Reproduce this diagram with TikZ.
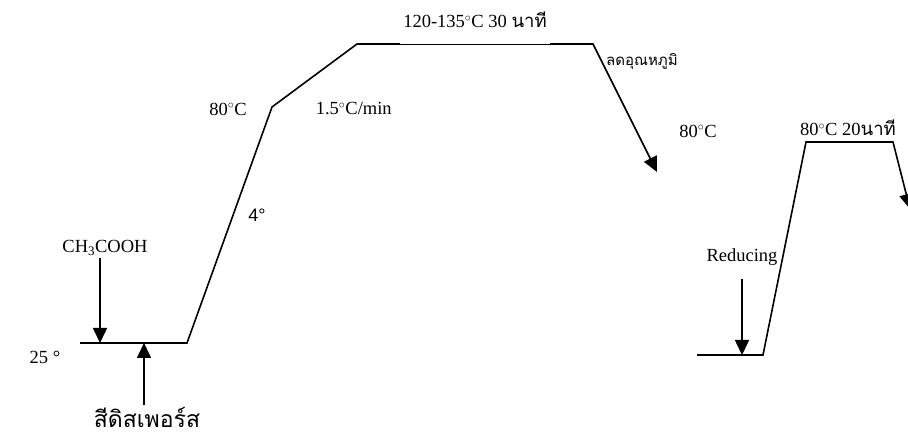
\documentclass[tikz,border=0pt]{standalone}
\usepackage{fontspec}
\setmainfont{Liberation Serif}
\newfontfamily\thaifont[Script=Thai]{Loma}
\newfontfamily\arialfont{Liberation Sans}
\usetikzlibrary{arrows.meta}
\begin{document}
\begin{tikzpicture}[x=1pt,y=-1pt, line width=1.6pt,
  lbl/.style={font=\fontsize{18.5}{22}\selectfont, inner sep=0pt},
  thai/.style={font=\thaifont\fontsize{24}{28}\selectfont, inner sep=0pt},
  arr/.style={-{Triangle[length=15pt,width=14pt]}}]
\useasboundingbox (0,0) rectangle (908,438);
% main profile
\coordinate (a0) at (80,343);
\coordinate (a1) at (187,343);
\coordinate (a2) at (272,107);
\coordinate (a3) at (357,44);
\coordinate (a4) at (400,44);
\coordinate (a5) at (550,44);
\coordinate (a6) at (593,44);
\coordinate (a7) at (657,172);
\draw (a0) -- (a1) -- (a2) -- (a3) -- (a4);
\draw[line width=0.7pt] (a4) -- (a5);
\draw[arr] (a5) -- (a6) -- (a7);
% additions
\coordinate (c0) at (100,258);
\coordinate (c1) at (100,343);
\draw[arr] (c0) -- (c1);
\coordinate (d0) at (144,405);
\coordinate (d1) at (144,343);
\draw[arr] (d0) -- (d1);
% reduction profile
\coordinate (b0) at (697,355);
\coordinate (b1) at (763,355);
\coordinate (b2) at (806,142);
\coordinate (b3) at (893,142);
\coordinate (b4) at (910,209);
\draw[arr] (b0) -- (b1) -- (b2) -- (b3) -- (b4);
\coordinate (r0) at (742,279);
\coordinate (r1) at (742,355);
\draw[arr] (r0) -- (r1);
% labels
\node[lbl] (t25) at (45,357) {25 °};
\node[lbl] (tac) at (105,248) {CH\textsubscript{3}COOH};
\node[lbl] (t80a) at (228,109) {80$^{\circ}$C};
\node[lbl,anchor=west] (trate) at (315,109) {1.5$^{\circ}$C/min};
\node[lbl,font=\arialfont\fontsize{18}{21}\selectfont] (t4) at (257,215) {4°};
\node[lbl] (ttop) at (475,20) {120-135$^{\circ}$C 30 {\thaifont นาที}};
\node[thai,font=\thaifont\fontsize{15}{19}\selectfont,anchor=base] (tcool) at (642,66) {ลดอุณหภูมิ};
\node[lbl] (t80b) at (698,131) {80$^{\circ}$C};
\node[lbl] (t80c) at (848,128) {80$^{\circ}$C 20{\thaifont นาที}};
\node[lbl] (tred) at (742,257) {Reducing};
\node[thai,font=\thaifont\fontsize{23}{27}\selectfont,anchor=base] (tdye) at (147,428) {สีดิสเพอร์ส};
\end{tikzpicture}
\end{document}
